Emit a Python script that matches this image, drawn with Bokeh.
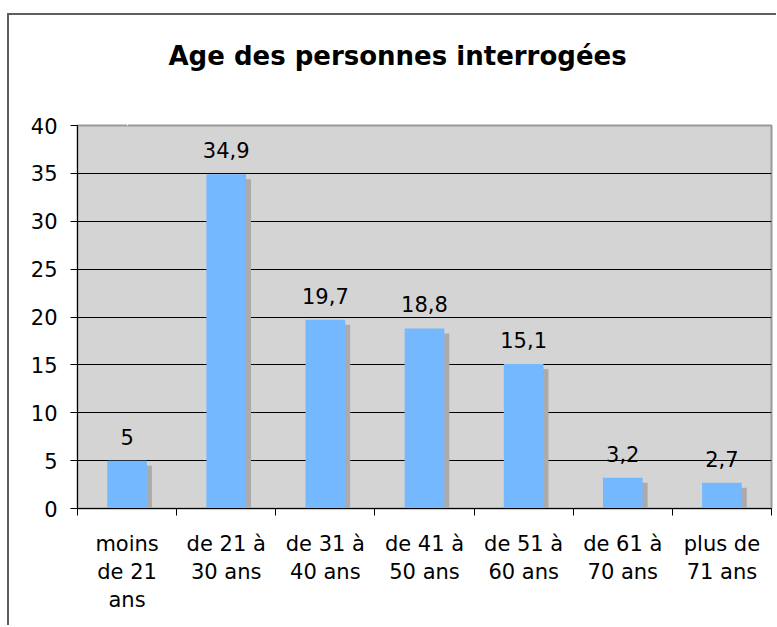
from bokeh.plotting import figure
from bokeh.models import (Range1d, LinearAxis, FixedTicker, Grid, ColumnDataSource, Title)
from bokeh.core.properties import value
from bokeh.embed import file_html
from bokeh.resources import INLINE

# ---- data ----
categories = ["moins de 21 ans", "de 21 à 30 ans", "de 31 à 40 ans",
              "de 41 à 50 ans", "de 51 à 60 ans", "de 61 à 70 ans",
              "plus de 71 ans"]
category_labels = ["moins\nde 21\nans", "de 21 à\n30 ans", "de 31 à\n40 ans",
                   "de 41 à\n50 ans", "de 51 à\n60 ans", "de 61 à\n70 ans",
                   "plus de\n71 ans"]
values = [5, 34.9, 19.7, 18.8, 15.1, 3.2, 2.7]
value_labels = ["5", "34,9", "19,7", "18,8", "15,1", "3,2", "2,7"]
y_ticks = [0, 5, 10, 15, 20, 25, 30, 35, 40]
title_text = "Age des personnes interrogées"

# ---- layout / styling ----
FONT = "DejaVu Sans"
N = len(categories)
Y_MAX = 40
FRAME_W, FRAME_H = 694, 383
px_x = FRAME_W / N          # pixels per category slot
px_y = FRAME_H / Y_MAX      # pixels per y unit
shadow_px = 5
shadow_drop = shadow_px / px_y
shadow_shift = shadow_px / px_x

centers = [i + 0.5 for i in range(N)]          # category slot centres
separators = list(range(N + 1))                 # category slot boundaries

source = ColumnDataSource(dict(
    x=centers,
    xs=[c + shadow_shift for c in centers],
    val=values,
    shadow_top=[v - shadow_drop for v in values],
    lbl=value_labels,
))

p = figure(x_range=Range1d(0, N), y_range=Range1d(0, Y_MAX),
           frame_width=FRAME_W, frame_height=FRAME_H,
           min_border_left=68, min_border_right=5,
           min_border_top=110, min_border_bottom=117,
           x_axis_type=None, y_axis_type=None, title=None,
           output_backend="svg", toolbar_location=None)

p.background_fill_color = "#D4D4D4"
p.border_fill_color = "white"
p.outline_line_color = "#9A9A9A"
p.outline_line_width = 2

p.styles = {"border-top": "2px solid #5E5E5E",
            "border-left": "2px solid #5E5E5E",
            "position": "relative", "left": "7px", "top": "13px"}

# invisible spacer between plot area and title: one white tick, no label text
spacer = LinearAxis(ticker=FixedTicker(ticks=centers[:1]))
spacer.axis_line_color = None
spacer.major_tick_line_color = "white"
spacer.minor_tick_line_color = None
spacer.major_tick_in = 0
spacer.major_tick_out = 50
spacer.minor_tick_out = 0
spacer.major_label_standoff = 0
spacer.major_label_overrides = {centers[0]: ""}
p.add_layout(spacer, "above")

# title, outside the spacer
title = Title(text=title_text, text_font=FONT, text_font_size="26px",
              text_font_style="bold", text_color="black",
              align="left", offset=91, standoff=10)
p.add_layout(title, "above")

# y axis
yaxis = LinearAxis(ticker=FixedTicker(ticks=y_ticks))
yaxis.major_tick_out = 7
yaxis.major_tick_in = 0
yaxis.minor_tick_line_color = None
yaxis.axis_line_color = "black"
yaxis.major_tick_line_color = "black"
yaxis.major_label_standoff = 13
yaxis.major_label_text_font = FONT
yaxis.major_label_text_font_size = "21px"
yaxis.major_label_text_color = "black"
p.add_layout(yaxis, "left")

p.add_layout(Grid(dimension=1, ticker=FixedTicker(ticks=y_ticks),
                  grid_line_color="black", grid_line_width=1))

# separator ticks between categories (minor ticks: no labels)
sep_axis = LinearAxis(ticker=FixedTicker(ticks=[], minor_ticks=separators))
sep_axis.major_tick_out = 7
sep_axis.major_tick_in = 0
sep_axis.major_tick_line_color = None
sep_axis.minor_tick_out = 7
sep_axis.minor_tick_in = 0
sep_axis.minor_tick_line_color = "black"
sep_axis.axis_line_color = "black"
sep_axis.major_label_standoff = 0
p.add_layout(sep_axis, "below")

# category labels
cat_axis = LinearAxis(ticker=FixedTicker(ticks=centers))
cat_axis.axis_line_color = None
cat_axis.major_tick_line_color = None
cat_axis.minor_tick_line_color = None
cat_axis.major_label_overrides = dict(zip(centers, category_labels))
cat_axis.major_label_standoff = 10
cat_axis.major_label_text_font = FONT
cat_axis.major_label_text_font_size = "21px"
cat_axis.major_label_text_line_height = 1.17
cat_axis.major_label_text_color = "black"
p.add_layout(cat_axis, "below")

# bars
p.vbar(x="xs", top="shadow_top", width=0.4, source=source,
       fill_color="#ABABAB", line_color=None)
p.vbar(x="x", top="val", width=0.4, source=source,
       fill_color="#74B9FF", line_color=None)

p.text(x="x", y="val", text="lbl", source=source, y_offset=-24,
       text_align="center", text_baseline="alphabetic",
       text_font=value(FONT), text_font_size="21px", text_color="black")

open("out.html", "w").write(file_html(p, INLINE))
